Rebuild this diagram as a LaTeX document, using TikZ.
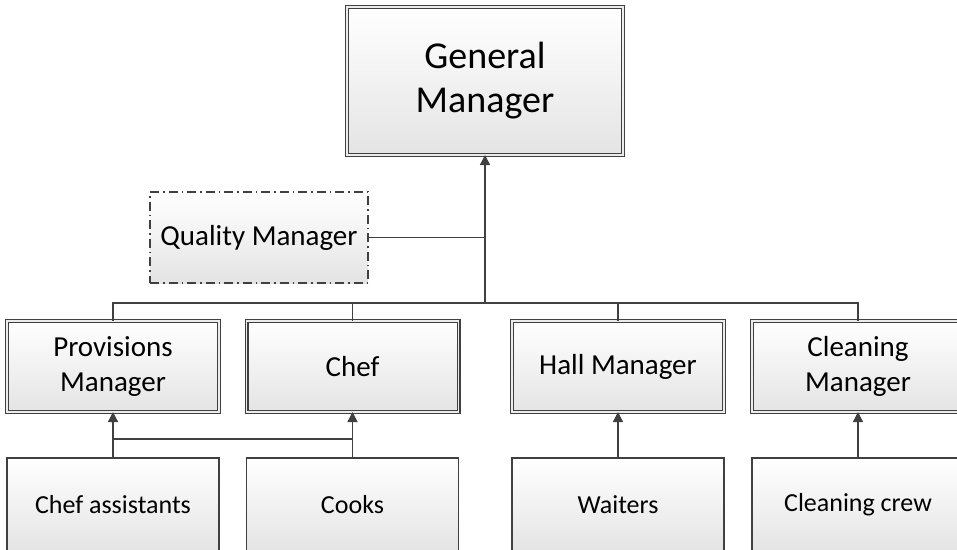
\documentclass[tikz,border=0pt]{standalone}
\usepackage{fontspec}
\setmainfont{Carlito}
\usetikzlibrary{arrows.meta,calc}

\definecolor{edge}{HTML}{404040}
\definecolor{boxbottom}{HTML}{E4E4E4}

\tikzset{
  x=1pt, y=-1pt,
  base/.style={rectangle, inner sep=0pt, outer sep=0pt, align=center,
    top color=white, bottom color=boxbottom, text=black},
  headbox/.style={base, draw=edge, line width=1.4pt, double=gray!15,
    double distance=1.2pt},
  staffbox/.style={base, draw=edge, line width=1.3pt,
    minimum width=212pt, minimum height=93pt, font=\fontsize{26}{32}\selectfont},
  mgrbox/.style={headbox, minimum width=212pt, minimum height=91pt,
    font=\fontsize{29}{35}\selectfont},
  qualbox/.style={base, draw=edge, line width=1.3pt,
    dash pattern=on 9pt off 4pt on 1.5pt off 4pt,
    minimum width=218pt, minimum height=91pt, font=\fontsize{29}{35}\selectfont},
  link/.style={draw=edge, line width=1.3pt},
  arr/.style={link, -{Triangle[width=10pt,length=10pt]}},
}

\begin{document}
\begin{tikzpicture}
\clip (0,0) rectangle (957,549);
\fill[white] (0,0) rectangle (957,549);

% top of the hierarchy
\node[headbox, minimum width=276pt, minimum height=148pt,
      font=\fontsize{38}{44}\selectfont] (gm) at (485,81) {General\\Manager};

% advisory role
\node[qualbox] (qm) at (259,237.5) {Quality Manager};

% department heads
\node[mgrbox] (pm)    at (113,366.5) {Provisions\\Manager};
\node[mgrbox] (chef)  at (352.5,366.5) {Chef};
\node[mgrbox] (hall)  at (618,366.5) {Hall Manager};
\node[mgrbox] (clean) at (858,366.5) {Cleaning\\Manager};

% staff
\node[staffbox] (ca)    at (113,504.5) {Chef assistants};
\node[staffbox] (cooks) at (352.5,504.5) {Cooks};
\node[staffbox] (wait)  at (618,504.5) {Waiters};
\node[staffbox] (crew)  at (858,504.5) {Cleaning crew};

% reporting lines
\coordinate (bus) at (485,303);
\draw[arr] (bus) -- (gm);
\draw[link] (qm.east) -- (qm.east -| bus);
\draw[link] (pm.north) |- (bus) -| (clean.north);
\draw[link] (chef.north) -- (chef.north |- bus);
\draw[link] (hall.north) -- (hall.north |- bus);

\draw[arr] (ca) -- (pm);
\draw[arr] (cooks) -- (chef);
\draw[arr] (wait) -- (hall);
\draw[arr] (crew) -- (clean);

\coordinate (kitchen) at (113,439);
\draw[link] (kitchen) -- (kitchen -| cooks.north);
\end{tikzpicture}
\end{document}
